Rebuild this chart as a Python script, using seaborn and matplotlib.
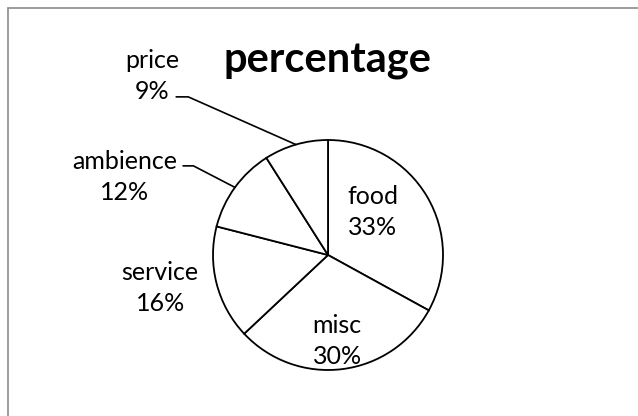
import numpy as np
import matplotlib
matplotlib.use("Agg")
import matplotlib.pyplot as plt
from matplotlib.lines import Line2D
import seaborn as sns

# chart data (clockwise from 12 o'clock)
labels = ["food", "misc", "service", "ambience", "price"]
values = [33, 30, 16, 12, 9]

# label placement (data units, pie radius = 1)
inside_pos = {"food": (0.39, 0.37), "misc": (0.08, -0.75)}
outside_pos = {"service": (-1.46, -0.29), "ambience": (-1.77, 0.68), "price": (-1.53, 1.56)}
elbow = {"ambience": (-1.26, -1.17, 0.775), "price": (-1.32, -1.215, 1.375)}

sns.set_theme(style="white")
plt.rcParams["font.family"] = ["Lato", "DejaVu Sans"]

W, H = 638, 416
fig = plt.figure(figsize=(W / 100, H / 100), dpi=100)
ax = fig.add_axes([0, 0, 1, 1])

wedges, _ = ax.pie(values, startangle=90, counterclock=False, radius=1,
                   colors=["white"] * len(values),
                   wedgeprops=dict(edgecolor="black", linewidth=1.3))

# pixel scale: radius 115 px, center at (328, 255) from top
scale = 115.0
cx, cy = 328, H - 255
ax.set_xlim(-cx / scale, (W - cx) / scale)
ax.set_ylim(-cy / scale, (H - cy) / scale)
ax.set_aspect("auto")
ax.axis("off")

fs = 18
for i, (lab, v) in enumerate(zip(labels, values)):
    txt = f"{lab}\n{v}%"
    if lab in inside_pos:
        x, y = inside_pos[lab]
    else:
        x, y = outside_pos[lab]
    ax.text(x, y, txt, ha="center", va="center", fontsize=fs,
            linespacing=1.42, color="black")
    if lab in elbow:
        w = wedges[i]
        mid = np.deg2rad((w.theta1 + w.theta2) / 2)
        px, py = np.cos(mid), np.sin(mid)
        x0, x1, ye = elbow[lab]
        ax.plot([x0, x1, px], [ye, ye, py], color="black", linewidth=1.2)

ax.text(0.0, 1.69, "percentage", ha="center", va="center",
        fontsize=30, fontweight="bold", color="black")

# chart frame (only top and left edges visible)
fig.add_artist(Line2D([8 / W, 1], [1 - 8 / H, 1 - 8 / H], color="#8c8c8c", linewidth=1.2))
fig.add_artist(Line2D([8 / W, 8 / W], [0, 1 - 8 / H], color="#8c8c8c", linewidth=1.2))

fig.savefig("out.png", dpi=100, facecolor="white")
